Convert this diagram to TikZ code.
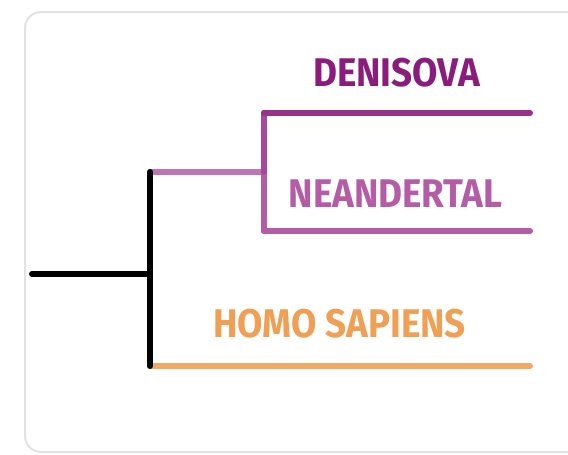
\documentclass[tikz,border=0pt]{standalone}
\usepackage{fontspec}
\newfontfamily\labfont[FakeStretch=0.92]{Fira Sans}
\definecolor{denis}{HTML}{8A1C7C}
\definecolor{neand}{HTML}{B55CA6}
\definecolor{sapi}{HTML}{F0A055}
\definecolor{mid}{HTML}{A8489C}
\definecolor{framec}{HTML}{E2E2E6}
\tikzset{
  branch/.style={line width=6pt, line cap=round},
  lab/.style={font=\labfont\bfseries\fontsize{40}{46}\selectfont, inner sep=0pt, anchor=base}
}
\begin{document}
\begin{tikzpicture}[x=1pt,y=-1pt]
\useasboundingbox (0,0) rectangle (568,455);
\clip (0,0) rectangle (568,455);
\draw[framec, line width=2pt, rounded corners=16pt] (25,12) rectangle (640,452);
% coordinates
\coordinate (root) at (32,274);
\coordinate (rt) at (150,172);
\coordinate (rb) at (150,366);
\coordinate (rm) at (150,274);
\coordinate (nt) at (264,113);
\coordinate (nb) at (264,231);
\coordinate (nm) at (264,172);
\coordinate (dend) at (530,113);
\coordinate (nend) at (530,231);
\coordinate (send) at (530,366);
% branches
\draw[branch, neand!85!white] (nm) -- (rt);
\draw[branch, sapi!90!white] (rb) -- (send);
\draw[branch, black] (root) -- (rm);
\draw[branch, black] (rt) -- (rb);
\draw[branch, neand] (nm) -- (nb);
\draw[branch, mid] (nt) -- (nm);
\draw[branch, denis!90!white] (nt) -- (dend);
\draw[branch, neand] (nb) -- (nend);
% labels
\node[lab, text=denis] (den) at (396.5,86) {DENISOVA};
\node[lab, text=neand] (nea) at (395.5,207) {NEANDERTAL};
\node[lab, text=sapi] (hom) at (339.5,337) {HOMO SAPIENS};
\end{tikzpicture}
\end{document}
